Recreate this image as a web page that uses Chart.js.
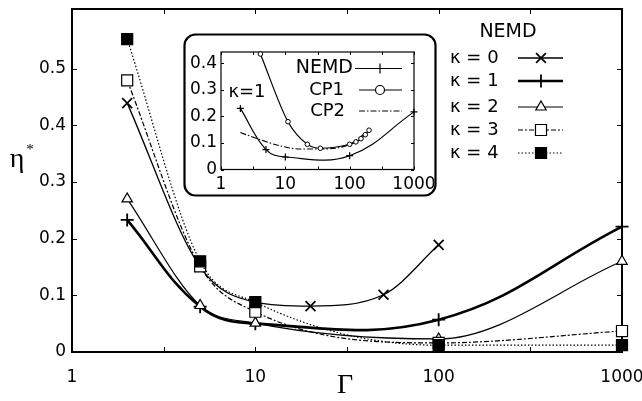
<!DOCTYPE html>
<html><head><meta charset="utf-8">
<script src="https://cdn.jsdelivr.net/npm/chart.js@4.4.1/dist/chart.umd.min.js"></script>
<style>
html,body{margin:0;padding:0;background:#fff;}
#wrap{position:relative;width:642px;height:401px;overflow:hidden;}
#main{position:absolute;left:0;top:0;}
#inset{position:absolute;left:183px;top:33px;}
</style></head><body>
<div id="wrap">
<canvas id="main" width="642" height="401"></canvas>
<canvas id="inset" width="254" height="164"></canvas>
</div>
<script>
// ---------- data ----------
const gammaK0 = [2, 5, 10, 20, 50, 100];
const etaK0   = [0.439, 0.150, 0.088, 0.081, 0.101, 0.189];
const gammaK  = [2, 5, 10, 100, 1000];
const etaK1   = [0.233, 0.080, 0.050, 0.057, 0.221];
const etaK2   = [0.270, 0.082, 0.051, 0.023, 0.160];
const etaK3   = [0.479, 0.151, 0.071, 0.016, 0.037];
const etaK4   = [0.552, 0.160, 0.088, 0.012, 0.012];
const kappaLabels = ['\u03ba = 0', '\u03ba = 1', '\u03ba = 2', '\u03ba = 3', '\u03ba = 4'];
const legendTitle = 'NEMD';
const xTickValues = [1, 3.1623, 10, 31.623, 100, 316.23, 1000];
const xTickLabels = ['1', '', '10', '', '100', '', '1000'];
const yTickValues = [0, 0.1, 0.2, 0.3, 0.4, 0.5];
const yTickLabels = ['0', '0.1', '0.2', '0.3', '0.4', '0.5'];
const xTitle = '\u0393';
const yTitle = '\u03b7';

// inset
const insetGammaNEMD = [2, 5, 10, 100, 1000];
const insetNEMD      = [0.230, 0.075, 0.047, 0.052, 0.217];
const insetGammaCP1  = [4.1, 11, 22, 35, 100, 125, 150, 175, 200];
const insetCP1       = [0.435, 0.180, 0.095, 0.080, 0.095, 0.104, 0.116, 0.131, 0.148];
const insetGammaCP2  = [2, 4, 8, 17, 35, 100, 200];
const insetCP2       = [0.139, 0.113, 0.090, 0.077, 0.077, 0.095, 0.148];
const insetLegend    = ['NEMD', 'CP1', 'CP2'];
const insetNote      = '\u03ba=1';
const insetYTickValues = [0, 0.1, 0.2, 0.3, 0.4];
const insetYTickLabels = ['0', '0.1', '0.2', '0.3', '0.4'];

// ---------- helpers ----------
const pts = (xs, ys) => xs.map((x, i) => ({x: x, y: ys[i]}));
const FONT = 'DejaVu Sans';
Chart.defaults.font.family = FONT;
Chart.defaults.color = '#000';

function zeroPad(s) { s.paddingTop = 0; s.paddingBottom = 0; s.paddingLeft = 0; s.paddingRight = 0; }

function drawMarker(ctx, style, x, y) {
  ctx.save();
  ctx.setLineDash([]);
  ctx.strokeStyle = '#000';
  ctx.fillStyle = style.fill || '#fff';
  ctx.lineWidth = style.pbw;
  if (Chart.helpers && Chart.helpers.drawPoint) {
    Chart.helpers.drawPoint(ctx, {pointStyle: style.ps, radius: style.r, rotation: 0, borderWidth: style.pbw}, x, y);
  }
  ctx.restore();
}

function framePlugin(id, xt, yt, len, lw) {
  return {
    id: id,
    beforeDatasetsDraw(chart) {
      const ctx = chart.ctx, a = chart.chartArea, x = chart.scales.x, y = chart.scales.y;
      ctx.save();
      ctx.strokeStyle = '#000';
      ctx.lineWidth = lw;
      ctx.strokeRect(a.left, a.top, a.right - a.left, a.bottom - a.top);
      ctx.lineWidth = 1;
      ctx.beginPath();
      xt.forEach(v => {
        const px = Math.round(x.getPixelForValue(v)) + 0.5;
        ctx.moveTo(px, a.bottom); ctx.lineTo(px, a.bottom - len);
        ctx.moveTo(px, a.top); ctx.lineTo(px, a.top + len);
      });
      yt.forEach(v => {
        const py = Math.round(y.getPixelForValue(v)) + 0.5;
        ctx.moveTo(a.left, py); ctx.lineTo(a.left + len, py);
        ctx.moveTo(a.right, py); ctx.lineTo(a.right - len, py);
      });
      ctx.stroke();
      ctx.restore();
    }
  };
}

// ---------- main chart ----------
const seriesStyle = [
  {ps: 'crossRot', r: 7,   lw: 1.3, dash: [],           fill: '#000', pbw: 1.7, mode: 'monotone'},
  {ps: 'cross',    r: 6.5, lw: 2.6, dash: [],           fill: '#000', pbw: 1.8, mode: 'default'},
  {ps: 'triangle', r: 6,   lw: 1.2, dash: [],           fill: '#fff', pbw: 1.2, mode: 'monotone'},
  {ps: 'rect',     r: 7.8, lw: 1.2, dash: [5, 2, 2, 2], fill: '#fff', pbw: 1.2, mode: 'monotone'},
  {ps: 'rect',     r: 7.8, lw: 1.2, dash: [1.5, 2],     fill: '#000', pbw: 1.2, mode: 'monotone'}
];
const seriesData = [pts(gammaK0, etaK0), pts(gammaK, etaK1), pts(gammaK, etaK2), pts(gammaK, etaK3), pts(gammaK, etaK4)];

const mainDatasets = seriesData.map((d, i) => {
  const s = seriesStyle[i];
  return {
    label: kappaLabels[i], data: d,
    borderColor: '#000', borderWidth: s.lw, borderDash: s.dash,
    pointStyle: s.ps, pointRadius: s.r, pointBackgroundColor: s.fill,
    pointBorderColor: '#000', pointBorderWidth: s.pbw,
    tension: 0.4, cubicInterpolationMode: s.mode,
    clip: false, order: 4 - i, fill: false
  };
});

const mainLegend = {
  id: 'mainLegend',
  afterDraw(chart) {
    const ctx = chart.ctx;
    ctx.save();
    ctx.fillStyle = '#000';
    ctx.textBaseline = 'middle';
    ctx.font = '19px ' + FONT;
    ctx.textAlign = 'center';
    ctx.fillText(legendTitle, 508, 32);
    const rows = [58, 81, 107, 130, 153];
    kappaLabels.forEach((t, i) => {
      const s = seriesStyle[i];
      ctx.textAlign = 'left';
      ctx.fillStyle = '#000';
      ctx.font = '18px ' + FONT;
      ctx.fillText(t, 450, rows[i]);
      ctx.strokeStyle = '#000';
      ctx.lineWidth = s.lw;
      ctx.setLineDash(s.dash);
      ctx.beginPath(); ctx.moveTo(518, rows[i]); ctx.lineTo(563, rows[i]); ctx.stroke();
      ctx.setLineDash([]);
      drawMarker(ctx, s, 541, rows[i]);
    });
    // axis titles
    ctx.textAlign = 'center';
    ctx.font = '28px "Liberation Serif"';
    ctx.fillText(xTitle, 345, 386);
    ctx.font = '28px "Liberation Serif"';
    ctx.fillText(yTitle, 17, 160);
    ctx.font = '15px "Liberation Serif"';
    ctx.fillText('*', 30, 150);
    ctx.restore();
  }
};

new Chart(document.getElementById('main'), {
  type: 'line',
  data: {datasets: mainDatasets},
  options: {
    responsive: false, animation: false, devicePixelRatio: 1,
    layout: {padding: {top: 7, right: 20, left: 0, bottom: 0}},
    plugins: {legend: {display: false}, tooltip: {enabled: false}},
    scales: {
      x: {
        type: 'logarithmic', min: 1, max: 1000,
        grid: {display: false, drawTicks: false}, border: {display: false},
        afterBuildTicks: s => { s.ticks = xTickValues.map(v => ({value: v})); },
        afterFit: s => { s.height = 49; zeroPad(s); },
        ticks: {autoSkip: false, maxRotation: 0, padding: 15, font: {size: 17},
                callback: (v, i) => xTickLabels[i]}
      },
      y: {
        type: 'linear', min: 0, max: 0.605,
        grid: {display: false, drawTicks: false}, border: {display: false},
        afterBuildTicks: s => { s.ticks = yTickValues.map(v => ({value: v})); },
        afterFit: s => { s.width = 72; zeroPad(s); },
        ticks: {autoSkip: false, padding: 6, font: {size: 17},
                callback: (v, i) => yTickLabels[i]}
      }
    }
  },
  plugins: [framePlugin('mainFrame', xTickValues, yTickValues, 5, 2), mainLegend]
});

// ---------- inset chart ----------
const insetStyle = [
  {ps: 'cross',  r: 3.5, lw: 1.2, dash: [],              fill: '#000', pbw: 1.2, mode: 'default', lr: 5},
  {ps: 'circle', r: 2.3, lw: 1.2, dash: [],              fill: '#fff', pbw: 1.0, mode: 'monotone', lr: 4.5},
  {ps: 'circle', r: 0,   lw: 1.1, dash: [6, 2, 1.5, 2],  fill: '#fff', pbw: 1.0, mode: 'monotone', lr: 0}
];
const insetData = [pts(insetGammaNEMD, insetNEMD), pts(insetGammaCP1, insetCP1), pts(insetGammaCP2, insetCP2)];
const insetDatasets = insetData.map((d, i) => {
  const s = insetStyle[i];
  return {
    label: insetLegend[i], data: d,
    borderColor: '#000', borderWidth: s.lw, borderDash: s.dash,
    pointStyle: s.ps, pointRadius: s.r, pointBackgroundColor: s.fill,
    pointBorderColor: '#000', pointBorderWidth: s.pbw,
    tension: 0.4, cubicInterpolationMode: s.mode, clip: false, fill: false
  };
});

const insetDecor = {
  id: 'insetDecor',
  beforeDraw(chart) {
    const ctx = chart.ctx;
    ctx.save();
    ctx.fillStyle = '#fff';
    ctx.strokeStyle = '#000';
    ctx.lineWidth = 2.2;
    ctx.beginPath();
    ctx.roundRect(1.5, 1.5, 251, 161, 11);
    ctx.fill(); ctx.stroke();
    ctx.restore();
  },
  afterDraw(chart) {
    const ctx = chart.ctx;
    ctx.save();
    ctx.fillStyle = '#000';
    ctx.textBaseline = 'middle';
    ctx.textAlign = 'right';
    const rows = [35.5, 57, 78];
    const rights = [170, 161, 162];
    insetLegend.forEach((t, i) => {
      const s = insetStyle[i];
      ctx.fillStyle = '#000';
      ctx.font = (i === 0 ? '19px ' : '18px ') + FONT;
      ctx.fillText(t, rights[i], rows[i]);
      ctx.strokeStyle = '#000';
      ctx.lineWidth = s.lw;
      ctx.setLineDash(s.dash);
      ctx.beginPath(); ctx.moveTo(i === 0 ? 172 : 176, rows[i]); ctx.lineTo(219, rows[i]); ctx.stroke();
      ctx.setLineDash([]);
      if (s.lr > 0) drawMarker(ctx, {ps: s.ps, r: s.lr, fill: '#fff', pbw: 1.2}, 197, rows[i]);
    });
    ctx.textAlign = 'center';
    ctx.font = '18px ' + FONT;
    ctx.fillText(insetNote, 64, 59);
    ctx.restore();
  }
};

new Chart(document.getElementById('inset'), {
  type: 'line',
  data: {datasets: insetDatasets},
  options: {
    responsive: false, animation: false, devicePixelRatio: 1,
    layout: {padding: {top: 19, right: 23, left: 0, bottom: 0}},
    plugins: {legend: {display: false}, tooltip: {enabled: false}},
    scales: {
      x: {
        type: 'logarithmic', min: 1, max: 1000,
        grid: {display: false, drawTicks: false}, border: {display: false},
        afterBuildTicks: s => { s.ticks = xTickValues.map(v => ({value: v})); },
        afterFit: s => { s.height = 27.5; zeroPad(s); },
        ticks: {autoSkip: false, maxRotation: 0, padding: 5, font: {size: 17},
                callback: (v, i) => xTickLabels[i]}
      },
      y: {
        type: 'linear', min: 0, max: 0.4425,
        grid: {display: false, drawTicks: false}, border: {display: false},
        afterBuildTicks: s => { s.ticks = insetYTickValues.map(v => ({value: v})); },
        afterFit: s => { s.width = 38; zeroPad(s); },
        ticks: {autoSkip: false, padding: 4, font: {size: 17},
                callback: (v, i) => insetYTickLabels[i]}
      }
    }
  },
  plugins: [framePlugin('insetFrame', xTickValues, insetYTickValues, 3, 1.2), insetDecor]
});
</script>
</body></html>
